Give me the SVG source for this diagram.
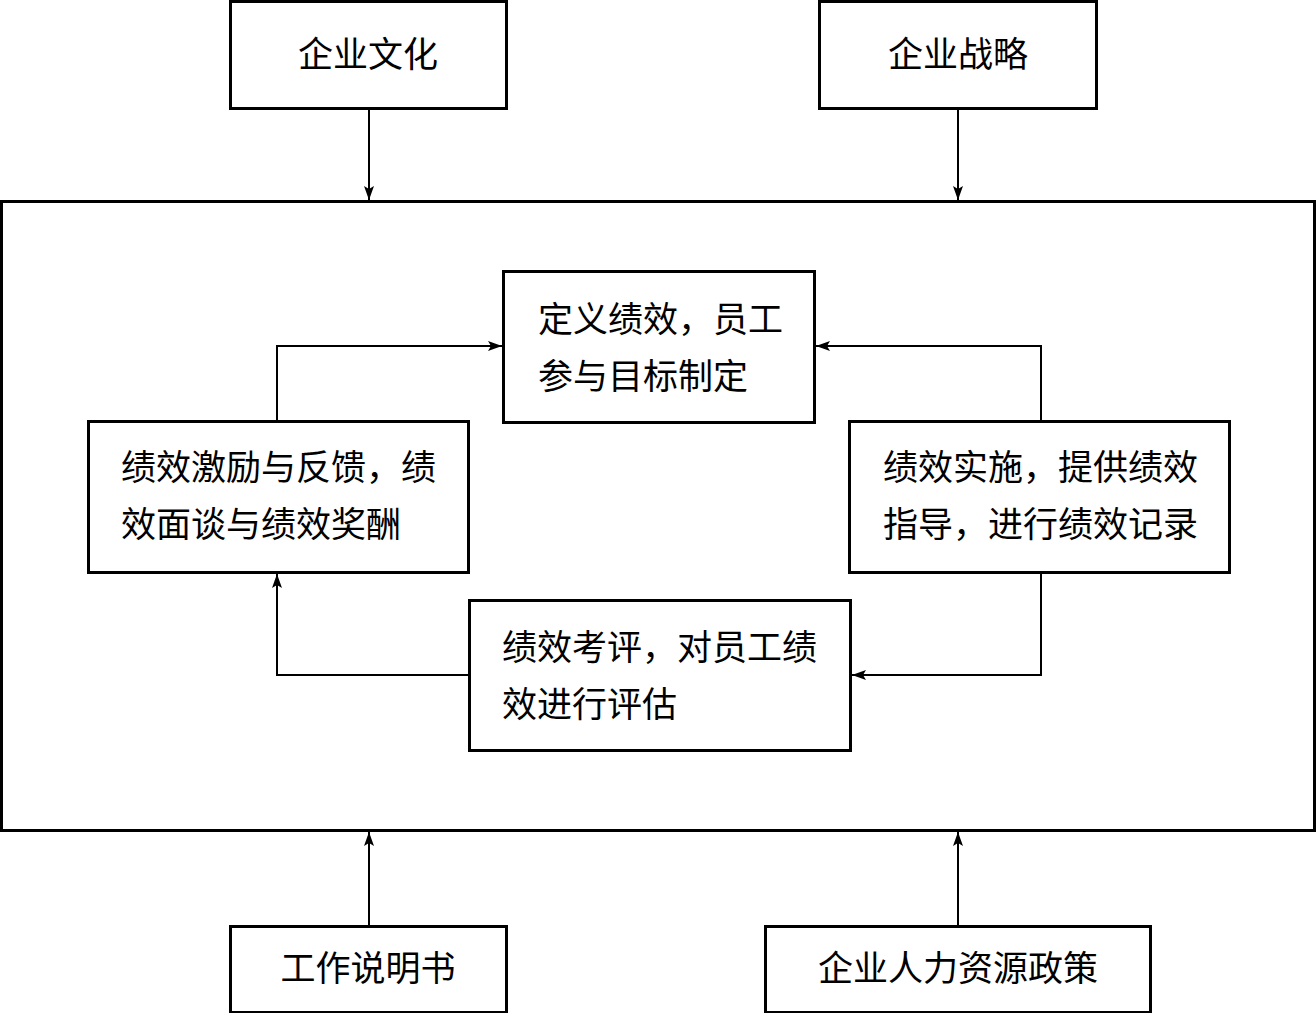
<svg xmlns="http://www.w3.org/2000/svg" width="1316" height="1013" viewBox="0 0 1316 1013">
<style>
.box{fill:#fff;stroke:#000;stroke-width:3}
.c{fill:none;stroke:#000;stroke-width:2}
text{font-family:"Liberation Serif","Noto Sans CJK SC",serif;font-size:35px;fill:#000}
.m{text-anchor:middle}
</style>
<defs>
<marker id="ah" viewBox="0 0 14 10" refX="14" refY="5" markerWidth="14" markerHeight="10" markerUnits="userSpaceOnUse" orient="auto">
<path d="M0,0 L14,5 L0,10 L3,5 Z" fill="#000"/>
</marker>
</defs>
<rect width="1316" height="1013" fill="#fff"/>
<g id="main"><rect class="box" x="1.5" y="201.5" width="1313" height="629"/></g>
<g id="culture"><rect class="box" x="230.5" y="1.5" width="276" height="107"/><text class="m" x="368" y="67">企业文化</text></g>
<g id="strategy"><rect class="box" x="819.5" y="1.5" width="277" height="107"/><text class="m" x="958" y="67">企业战略</text></g>
<g id="define"><rect class="box" x="503.5" y="271.5" width="311" height="151"/><text x="538" y="332">定义绩效，员工</text><text x="538" y="389">参与目标制定</text></g>
<g id="reward"><rect class="box" x="88.5" y="421.5" width="380" height="151"/><text x="121" y="480">绩效激励与反馈，绩</text><text x="121" y="537">效面谈与绩效奖酬</text></g>
<g id="implement"><rect class="box" x="849.5" y="421.5" width="380" height="151"/><text x="883" y="480">绩效实施，提供绩效</text><text x="883" y="537">指导，进行绩效记录</text></g>
<g id="appraise"><rect class="box" x="469.5" y="600.5" width="381" height="150"/><text x="502" y="660">绩效考评，对员工绩</text><text x="502" y="717">效进行评估</text></g>
<g id="jobdesc"><rect class="box" x="230.5" y="926.5" width="276" height="86"/><text class="m" x="368" y="981">工作说明书</text></g>
<g id="hrpolicy"><rect class="box" x="765.5" y="926.5" width="385" height="86"/><text class="m" x="958" y="981">企业人力资源政策</text></g>
<g id="connectors">
<path class="c" d="M369,108 L369,200" marker-end="url(#ah)"/>
<path class="c" d="M958,108 L958,200" marker-end="url(#ah)"/>
<path class="c" d="M369,926 L369,832" marker-end="url(#ah)"/>
<path class="c" d="M958,926 L958,832" marker-end="url(#ah)"/>
<path class="c" d="M277,421 L277,346 L502,346" marker-end="url(#ah)"/>
<path class="c" d="M1041,421 L1041,346 L816,346" marker-end="url(#ah)"/>
<path class="c" d="M1041,572 L1041,675 L852,675" marker-end="url(#ah)"/>
<path class="c" d="M469,675 L277,675 L277,574" marker-end="url(#ah)"/>
</g>
</svg>
